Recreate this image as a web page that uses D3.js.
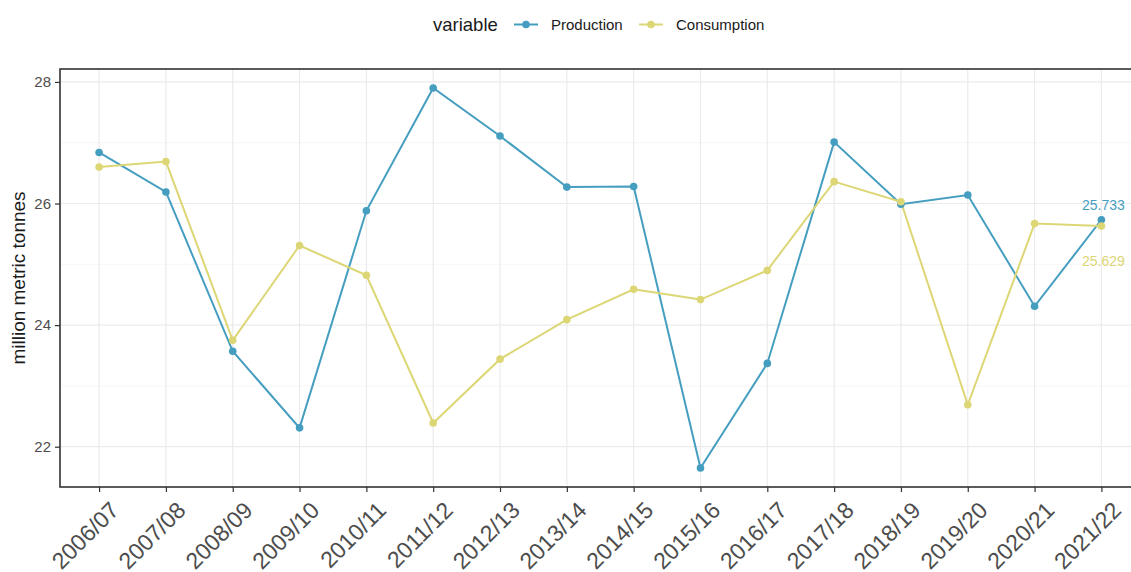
<!DOCTYPE html>
<html>
<head>
<meta charset="utf-8">
<script src="https://cdn.jsdelivr.net/npm/d3@7"></script>
<style>
  body { margin: 0; background: #fff; }
  svg { display: block; font-family: "Liberation Sans", Arial, Helvetica, sans-serif; }
</style>
</head>
<body>
<div id="chart"></div>
<script>
const seasons = ["2006/07", "2007/08", "2008/09", "2009/10", "2010/11", "2011/12", "2012/13", "2013/14",
  "2014/15", "2015/16", "2016/17", "2017/18", "2018/19", "2019/20", "2020/21", "2021/22"];
const production = [26.84, 26.19, 23.57, 22.31, 25.88, 27.90, 27.11, 26.27,
  26.28, 21.65, 23.37, 27.01, 25.99, 26.14, 24.31, 25.733];
const consumption = [26.60, 26.69, 23.75, 25.31, 24.82, 22.39, 23.44, 24.09,
  24.59, 24.42, 24.90, 26.36, 26.03, 22.69, 25.67, 25.629];
const seriesNames = ["Production", "Consumption"];
const seriesColors = ["#459ec0", "#ddd675"];
const yTicks = [22, 24, 26, 28];
const yMinor = [23, 25, 27];

const width = 1131, height = 572;
const panel = { left: 60, top: 69, bottom: 487, right: 1141.5 };

const series = [
  { name: seriesNames[0], color: seriesColors[0], values: production },
  { name: seriesNames[1], color: seriesColors[1], values: consumption }
];

const svg = d3.select("#chart").append("svg")
  .attr("width", width)
  .attr("height", height);

const x = d3.scalePoint()
  .domain(seasons)
  .range([panel.left - 1, panel.right])
  .padding(0.6);

// ggplot style 5% expansion of data range
const all = production.concat(consumption);
const lo = d3.min(all), hi = d3.max(all);
const pad = (hi - lo) * 0.05;
const y = d3.scaleLinear()
  .domain([lo - pad, hi + pad])
  .range([panel.bottom, panel.top]);

// grid
const grid = svg.append("g");
grid.selectAll(".minor").data(yMinor).enter().append("line")
  .attr("x1", panel.left).attr("x2", width)
  .attr("y1", d => y(d)).attr("y2", d => y(d))
  .attr("stroke", "#f4f4f4").attr("stroke-width", 0.7);
grid.selectAll(".majy").data(yTicks).enter().append("line")
  .attr("x1", panel.left).attr("x2", width)
  .attr("y1", d => y(d)).attr("y2", d => y(d))
  .attr("stroke", "#ebebeb").attr("stroke-width", 1.2);
grid.selectAll(".majx").data(seasons).enter().append("line")
  .attr("x1", d => x(d)).attr("x2", d => x(d))
  .attr("y1", panel.top).attr("y2", panel.bottom)
  .attr("stroke", "#ebebeb").attr("stroke-width", 1.2);

// lines
const line = d3.line()
  .x((d, i) => x(seasons[i]))
  .y(d => y(d));

svg.append("g").selectAll("path").data(series).enter().append("path")
  .attr("d", d => line(d.values))
  .attr("fill", "none")
  .attr("stroke", d => d.color)
  .attr("stroke-width", 2);

series.forEach(s => {
  svg.append("g").selectAll("circle").data(s.values).enter().append("circle")
    .attr("cx", (d, i) => x(seasons[i]))
    .attr("cy", d => y(d))
    .attr("r", 3.8)
    .attr("fill", s.color);
});

// end labels
const last = seasons[seasons.length - 1];
svg.append("text")
  .attr("x", x(last) + 2).attr("y", y(production[production.length - 1]) - 10)
  .attr("text-anchor", "middle")
  .attr("font-size", 14)
  .attr("fill", seriesColors[0])
  .text(d3.format(".3f")(production[production.length - 1]));
svg.append("text")
  .attr("x", x(last) + 2).attr("y", y(consumption[consumption.length - 1]) + 40)
  .attr("text-anchor", "middle")
  .attr("font-size", 14)
  .attr("fill", seriesColors[1])
  .text(d3.format(".3f")(consumption[consumption.length - 1]));

// panel border
svg.append("rect")
  .attr("x", panel.left).attr("y", panel.top)
  .attr("width", panel.right - panel.left).attr("height", panel.bottom - panel.top)
  .attr("fill", "none")
  .attr("stroke", "#333333")
  .attr("stroke-width", 1.6);

// y axis
const yAxis = svg.append("g")
  .attr("transform", `translate(${panel.left},0)`)
  .call(d3.axisLeft(y).tickValues(yTicks).tickSize(5).tickPadding(4).tickFormat(d3.format("d")));
yAxis.select(".domain").remove();
yAxis.selectAll("line").attr("stroke", "#333333").attr("stroke-width", 1.2);
yAxis.selectAll("text")
  .attr("fill", "#4d4d4d")
  .style("font-size", "15px")
  .style("font-family", "'Liberation Sans', Arial, sans-serif");

// x axis, labels rotated 45 deg with top-right corner at the tick
const xAxis = svg.append("g")
  .attr("transform", `translate(0,${panel.bottom})`)
  .call(d3.axisBottom(x).tickSize(5));
xAxis.select(".domain").remove();
xAxis.selectAll("line").attr("stroke", "#333333").attr("stroke-width", 1.2);
xAxis.selectAll("text")
  .attr("fill", "#4d4d4d")
  .style("font-size", "23px")
  .style("font-family", "'Liberation Sans', Arial, sans-serif")
  .attr("text-anchor", "end")
  .attr("x", 0)
  .attr("y", 0)
  .attr("dy", "0.72em")
  .attr("transform", "translate(9,13) rotate(-45)");

// y title
svg.append("text")
  .attr("transform", `translate(25,${(panel.top + panel.bottom) / 2}) rotate(-90)`)
  .attr("text-anchor", "middle")
  .attr("font-size", 19)
  .attr("fill", "#1a1a1a")
  .text("million metric tonnes");

// legend
const legend = svg.append("g");
legend.append("text")
  .attr("x", 433).attr("y", 31)
  .attr("font-size", 18.5)
  .attr("fill", "#1a1a1a")
  .text("variable");
const keyX = [514, 639];
series.forEach((s, i) => {
  const g = legend.append("g").attr("transform", `translate(${keyX[i]},24.5)`);
  g.append("line").attr("x1", 0).attr("x2", 24).attr("y1", 0).attr("y2", 0)
    .attr("stroke", s.color).attr("stroke-width", 2);
  g.append("circle").attr("cx", 12).attr("cy", 0).attr("r", 3.8).attr("fill", s.color);
  g.append("text").attr("x", 37).attr("y", 5.5)
    .attr("font-size", 15)
    .attr("fill", "#1a1a1a")
    .text(s.name);
});
</script>
</body>
</html>
